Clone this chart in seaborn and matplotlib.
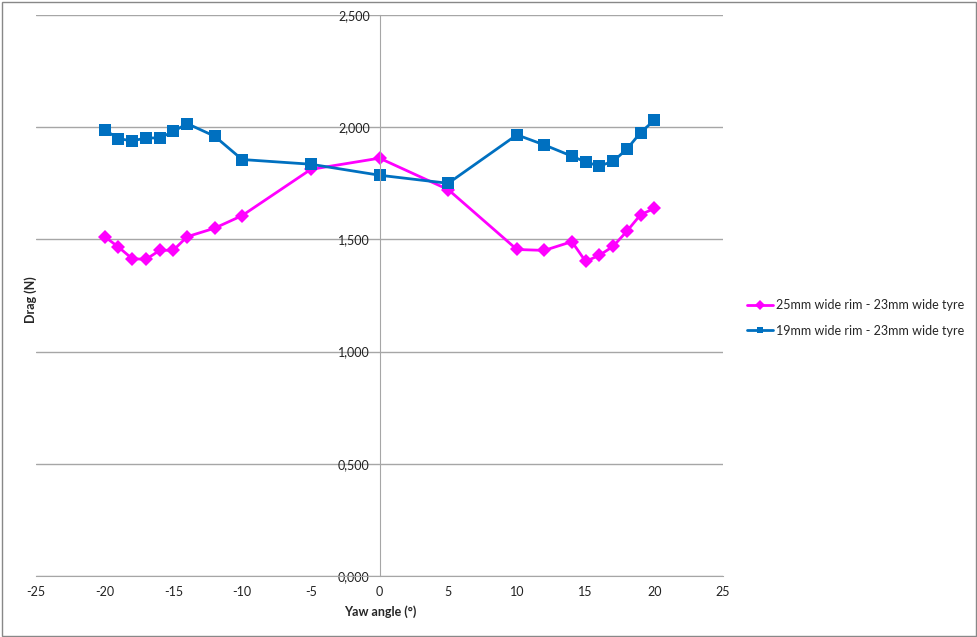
import matplotlib
matplotlib.use("Agg")
import matplotlib.pyplot as plt
from matplotlib.patches import Rectangle
from matplotlib.ticker import FuncFormatter, MultipleLocator
import seaborn as sns
import pandas as pd

# Datos
yaw = [-20, -19, -18, -17, -16, -15, -14, -12, -10, -5, 0, 5, 10, 12, 14, 15, 16, 17, 18, 19, 20]
drag_25mm = [1.512, 1.466, 1.414, 1.411, 1.451, 1.452, 1.512, 1.550, 1.606, 1.812, 1.862,
             1.722, 1.455, 1.451, 1.490, 1.402, 1.429, 1.469, 1.536, 1.610, 1.638]
drag_19mm = [1.988, 1.949, 1.939, 1.952, 1.952, 1.981, 2.016, 1.960, 1.856, 1.835, 1.786,
             1.750, 1.966, 1.921, 1.871, 1.845, 1.827, 1.848, 1.902, 1.976, 2.031]
series_names = ["25mm wide rim - 23mm wide tyre", "19mm wide rim - 23mm wide tyre"]

df = pd.DataFrame({
    "Yaw": yaw * 2,
    "Drag": drag_25mm + drag_19mm,
    "Serie": [series_names[0]] * len(yaw) + [series_names[1]] * len(yaw),
})

sns.set_style("white")
plt.rcParams["font.family"] = ["Lato", "DejaVu Sans"]

fig = plt.figure(figsize=(9.78, 6.37), dpi=100)
ax = fig.add_axes([36 / 978, 1 - 576 / 637, (723 - 36) / 978, (576 - 15) / 637])

sns.lineplot(data=df, x="Yaw", y="Drag", hue="Serie", style="Serie",
             palette=["#FF00FF", "#0070C0"], markers=["D", "s"], dashes=False,
             markersize=8, linewidth=2, markeredgewidth=0, ax=ax)
# marcadores cuadrados un poco mas grandes, como en Excel
ax.lines[0].set_markersize(7.5)
ax.lines[1].set_markersize(9)

ax.set_xlim(-25, 25)
ax.set_ylim(0, 2.5)
ax.xaxis.set_major_locator(MultipleLocator(5))
ax.yaxis.set_major_locator(MultipleLocator(0.5))
ax.yaxis.set_major_formatter(FuncFormatter(lambda v, p: f"{v:.3f}".replace(".", ",")))
ax.xaxis.set_major_formatter(FuncFormatter(lambda v, p: f"{v:.0f}"))

ax.grid(axis="y", color="#A6A6A6", linewidth=1)
ax.set_axisbelow(True)
for s in ["top", "right"]:
    ax.spines[s].set_visible(False)
ax.spines["left"].set_position(("data", 0))
ax.spines["left"].set_color("#A6A6A6")
ax.spines["bottom"].set_color("#A6A6A6")
ax.tick_params(axis="both", direction="out", length=4, width=1, color="#A6A6A6",
               labelsize=9, labelcolor="#222222", pad=3)

ax.set_xlabel("")
ax.set_ylabel("")
fig.text(380 / 978, 1 - 612 / 637, "Yaw angle (°)", ha="center", va="center",
         fontsize=9, fontweight="bold")
fig.text(31 / 978, 1 - 300 / 637, "Drag (N)", ha="center", va="center",
         rotation=90, fontsize=9, fontweight="bold")

leg = ax.legend(loc="center left", bbox_to_anchor=(747 / 978, 1 - 318 / 637),
                bbox_transform=fig.transFigure, frameon=False, fontsize=9,
                handlelength=2.1, labelspacing=1.1, handletextpad=0.25,
                borderaxespad=0, borderpad=0)
for h in leg.legend_handles:
    h.set_markersize(5)

fig.patches.append(Rectangle((0.002, 0.002), 0.996, 0.995, transform=fig.transFigure,
                             fill=False, edgecolor="#888888", linewidth=1))

fig.savefig("out.png", dpi=100)
